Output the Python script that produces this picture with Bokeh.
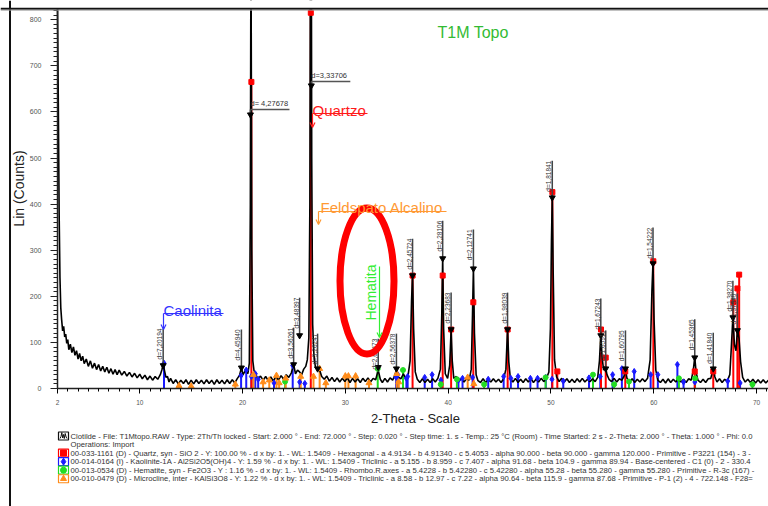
import math
from bokeh.plotting import figure
from bokeh.models import (Range1d, LinearAxis, FixedTicker, SingleIntervalTicker, Span, Label, Arrow,
                          OpenHead, BoxAnnotation)
from bokeh.core.properties import value
from bokeh.embed import file_html
from bokeh.resources import INLINE

FONT = "Liberation Sans"

# ---------------- measured scan (2-theta, counts) ----------------
scan_tt = [
    2.00, 2.08, 2.16, 2.24, 2.32, 2.40, 2.50, 2.60, 2.70, 2.80, 2.90, 3.00, 3.10, 3.25, 3.40, 3.55, 3.70, 3.85,
    4.00, 4.15, 4.30, 4.45, 4.60, 4.80, 5.00, 5.20, 5.40, 5.60, 5.80, 6.00, 6.20, 6.40, 6.60, 6.80, 7.00, 7.20,
    7.40, 7.60, 7.80, 8.00, 8.25, 8.50, 8.75, 9.00, 9.25, 9.50, 9.75, 10.00, 10.25, 10.50, 10.75, 11.00, 11.25,
    11.50, 11.75, 12.00, 12.15, 12.28, 12.40, 12.55, 12.70, 12.85, 13.00, 13.25, 13.50, 13.75, 14.00, 14.25,
    14.50, 14.75, 15.00, 15.25, 15.50, 15.75, 16.00, 16.25, 16.50, 16.75, 17.00, 17.25, 17.50, 17.75, 18.00,
    18.25, 18.50, 18.75, 19.00, 19.25, 19.50, 19.70, 19.89, 20.05, 20.20, 20.38, 20.52, 20.66, 20.76, 20.82,
    20.90, 21.00, 21.12, 21.30, 21.50, 21.75, 22.00, 22.25, 22.50, 22.75, 23.00, 23.25, 23.50, 23.75, 24.00,
    24.25, 24.50, 24.75, 24.97, 25.15, 25.35, 25.55, 25.75, 25.95, 26.15, 26.30, 26.45, 26.55, 26.65, 26.73,
    26.82, 26.95, 27.10, 27.30, 27.50, 27.70, 27.95, 28.20, 28.45, 28.70, 28.95, 29.20, 29.45, 29.70, 29.95,
    30.20, 30.45, 30.70, 30.95, 31.20, 31.45, 31.70, 31.95, 32.20, 32.45, 32.70, 32.95, 33.20, 33.40, 33.60,
    33.85, 34.10, 34.35, 34.60, 34.80, 34.97, 35.15, 35.40, 35.65, 35.90, 36.10, 36.30, 36.44, 36.54, 36.64,
    36.80, 37.00, 37.25, 37.50, 37.75, 38.00, 38.25, 38.50, 38.75, 39.00, 39.25, 39.38, 39.47, 39.56, 39.72,
    39.95, 40.15, 40.29, 40.40, 40.55, 40.80, 41.05, 41.30, 41.55, 41.80, 42.05, 42.25, 42.37, 42.46, 42.56,
    42.72, 42.90, 43.15, 43.40, 43.65, 43.90, 44.15, 44.40, 44.65, 44.90, 45.15, 45.40, 45.62, 45.78, 45.90,
    46.05, 46.30, 46.55, 46.80, 47.05, 47.30, 47.55, 47.80, 48.05, 48.30, 48.55, 48.80, 49.05, 49.30, 49.55,
    49.80, 49.95, 50.05, 50.13, 50.22, 50.35, 50.55, 50.80, 51.05, 51.30, 51.55, 51.80, 52.05, 52.30, 52.55,
    52.80, 53.05, 53.30, 53.55, 53.80, 54.05, 54.30, 54.55, 54.72, 54.85, 54.97, 55.12, 55.30, 55.45, 55.65,
    55.90, 56.15, 56.40, 56.65, 56.90, 57.10, 57.25, 57.40, 57.65, 57.90, 58.15, 58.40, 58.65, 58.90, 59.15,
    59.40, 59.65, 59.82, 59.93, 60.03, 60.20, 60.40, 60.65, 60.90, 61.15, 61.40, 61.65, 61.90, 62.15, 62.40,
    62.65, 62.90, 63.15, 63.40, 63.65, 63.85, 63.99, 64.12, 64.30, 64.55, 64.80, 65.05, 65.30, 65.55, 65.79,
    65.95, 66.15, 66.40, 66.65, 66.90, 67.15, 67.40, 67.55, 67.70, 67.85, 68.00, 68.14, 68.30, 68.45, 68.65,
    68.90, 69.15, 69.40, 69.65, 69.90, 70.15, 70.40, 70.65, 70.90, 71.15,
]
scan_counts = [
    830, 620, 380, 240, 175, 150, 125, 135, 112, 118, 98, 106, 84, 96, 78, 90, 72, 82,
    64, 76, 60, 70, 54, 64, 48, 60, 44, 55, 41, 52, 38, 48, 36, 46, 33, 43,
    31, 41, 30, 40, 29, 37, 27, 35, 25, 33, 23, 31, 21, 29, 19, 27, 18,
    26, 20, 30, 40, 52, 40, 24, 26, 14, 22, 11, 19, 10, 18, 11,
    19, 9, 18, 10, 19, 11, 18, 10, 19, 11, 18, 9, 19, 11, 18,
    10, 19, 11, 19, 12, 22, 28, 45, 30, 36, 40, 32, 55, 400, 1000,
    300, 60, 38, 30, 20, 27, 18, 26, 17, 25, 16, 27, 18, 28, 20,
    30, 24, 34, 52, 32, 40, 36, 30, 42, 48, 62, 110, 400, 1500, 500,
    140, 70, 45, 44, 40, 26, 20, 27, 16, 24, 15, 23, 14, 22, 15,
    23, 13, 22, 14, 21, 13, 22, 15, 23, 14, 22, 19, 40, 20, 13,
    22, 14, 23, 18, 28, 40, 25, 21, 32, 20, 28, 60, 190, 250, 130,
    36, 20, 13, 21, 13, 20, 13, 21, 14, 22, 42, 160, 285, 130, 32,
    22, 50, 128, 60, 22, 26, 15, 22, 14, 22, 18, 42, 160, 262, 120,
    30, 17, 13, 21, 13, 20, 14, 21, 14, 20, 13, 21, 42, 130, 58,
    22, 14, 22, 13, 20, 13, 21, 14, 22, 13, 20, 14, 22, 15, 21,
    36, 130, 320, 420, 250, 62, 25, 15, 22, 14, 21, 13, 20, 13, 21,
    14, 22, 14, 20, 15, 21, 15, 24, 60, 118, 70, 40, 48, 30, 20,
    15, 22, 14, 21, 18, 26, 40, 22, 14, 21, 13, 20, 14, 21, 15,
    22, 62, 210, 275, 150, 40, 18, 13, 20, 12, 21, 13, 20, 14, 22,
    14, 20, 13, 21, 18, 40, 68, 35, 18, 13, 20, 13, 21, 22, 44,
    25, 14, 21, 13, 20, 16, 30, 90, 155, 95, 82, 128, 108, 58, 24,
    14, 20, 13, 20, 12, 19, 12, 19, 12, 18,
]

# ---------------- reference patterns (stick positions / heights) ----------------
quartz_tt = [20.86, 26.64, 36.54, 39.47, 40.29, 42.45, 45.79, 50.14, 50.62, 54.87, 55.33, 57.23, 59.96,
             63.99, 65.79, 67.74, 68.14, 68.31]
quartz_h = [665, 815, 245, 245, 128, 187, 128, 426, 37, 128, 67, 37, 276, 37, 37, 187, 217, 247]

kaol_tt = [12.36, 19.86, 20.36, 20.86, 21.24, 21.52, 23.06, 24.88, 25.56, 26.06, 34.94, 35.10, 35.94, 36.06,
           37.72, 38.44, 39.30, 41.00, 41.40, 42.38, 43.90, 45.40, 46.10, 46.80, 48.00, 48.70, 49.50, 50.10,
           51.20, 53.70, 54.80, 56.00, 56.90, 58.10, 59.70, 60.40, 62.30, 62.90, 64.00, 67.20, 68.40]
kaol_h = [55, 28, 40, 26, 32, 20, 12, 50, 14, 11, 24, 30, 22, 26, 24, 30, 18, 18, 22, 24, 20, 26, 22, 26,
          22, 22, 24, 20, 16, 23, 26, 30, 43, 37, 30, 30, 52, 14, 14, 16, 12]

hem_tt = [24.14, 33.15, 35.61, 39.28, 40.85, 43.50, 49.48, 54.09, 56.15, 57.59, 62.45, 64.02, 69.60]
hem_h = [15, 43, 40, 9, 20, 9, 24, 30, 9, 15, 22, 22, 9]

micro_tt = [13.82, 15.00, 19.30, 21.05, 22.00, 22.60, 23.30, 23.56, 24.20, 25.66, 26.90, 27.50, 28.10, 30.00,
            30.30, 31.00, 32.30, 35.00, 35.20, 41.90, 42.50]
micro_h = [6, 5, 9, 30, 14, 18, 28, 12, 22, 26, 26, 43, 12, 27, 27, 27, 12, 32, 14, 24, 10]

# ---------------- peak search labels (vertical) ----------------
dlab_tt = [12.28, 19.89, 24.97, 25.55, 27.30, 33.20, 34.97, 36.54, 39.47, 40.29, 42.46, 45.78, 50.13,
           54.85, 55.33, 57.25, 59.93, 63.99, 65.79, 67.70, 68.14]
dlab_peak = [50, 45, 52, 115, 43, 46, 43, 245, 282, 128, 260, 128, 414, 115, 43, 43, 271, 67, 43, 154, 126]
dlab_top = [130, 128, 132, 197, 119, 108, 119, 325, 364, 208, 345, 208, 494, 195, 126, 126, 349, 150, 121, 234, 206]
dlab_text = ["d=7,20194", "d=4,45940", "d=3,56261", "d=3,48397", "d=3,26247", "d=2,69473", "d=2,56378",
             "d=2,45724", "d=2,28106", "d=2,23683", "d=2,12741", "d=1,98039", "d=1,81841", "d=1,67243",
             "d=1,65911", "d=1,60795", "d=1,54222", "d=1,45365", "d=1,41840", "d=1,38270", "d=1,37540"]

# horizontal labels on the two strongest quartz peaks
hlab_tt = [20.77, 26.69]
hlab_peak = [594, 657]
hlab_line = [605, 666]
hlab_text = ["d= 4,27678", "d=3,33706"]

# axis ticks
x_tick_labels = [2, 10, 20, 30, 40, 50, 60, 70]

legend_lines = [
    "Clotilde - File: T1Mtopo.RAW - Type: 2Th/Th locked - Start: 2.000 ° - End: 72.000 ° - Step: 0.020 ° - Step time: 1. s - Temp.: 25 °C (Room) - Time Started: 2 s - 2-Theta: 2.000 ° - Theta: 1.000 ° - Phi: 0.0",
    "Operations: Import",
    "00-033-1161 (D) - Quartz, syn - SiO 2 - Y: 100.00 % - d x by: 1. - WL: 1.5409 - Hexagonal - a 4.9134 - b 4.91340 - c 5.4053 - alpha 90.000 - beta 90.000 - gamma 120.000 - Primitive - P3221 (154) - 3 -",
    "00-014-0164 (I) - Kaolinite-1A - Al2Si2O5(OH)4 - Y: 1.59 % - d x by: 1. - WL: 1.5409 - Triclinic - a 5.155 - b 8.959 - c 7.407 - alpha 91.68 - beta 104.9 - gamma 89.94 - Base-centered - C1 (0) - 2 - 330.4",
    "00-013-0534 (D) - Hematite, syn - Fe2O3 - Y : 1.16 % - d x by: 1. - WL: 1.5409 - Rhombo.R.axes - a 5.4228 - b 5.42280 - c 5.42280 - alpha 55.28 - beta 55.280 - gamma 55.280 - Primitive - R-3c (167) -",
    "00-010-0479 (D) - Microcline, inter - KAlSi3O8 - Y: 1.22 % - d x by: 1. - WL: 1.5409 - Triclinic - a 8.58 - b 12.97 - c 7.22 - alpha 90.64 - beta 115.9 - gamma 87.68 - Primitive - P-1 (2) - 4 - 722.148 - F28=",
]

# ---------------- layout ----------------
W, H = 768, 506
PXD = 10.28          # px per degree 2-theta
PXC = 0.461          # px per count
FL, FB = 57, 388     # px of 2theta=2 and of count 0

X0 = 2 - FL / PXD
X1 = 2 + (W - FL) / PXD
Y1 = FB / PXC
Y0 = -(H - FB) / PXC


def sx(px):
    return 2 + (px - FL) / PXD


def sy(py):
    return (FB - py) / PXC


p = figure(width=W, height=H, x_range=Range1d(X0, X1), y_range=Range1d(Y0, Y1),
           output_backend="svg", toolbar_location=None, x_axis_type=None, y_axis_type=None,
           min_border=0, min_border_left=0, min_border_right=0, min_border_top=0, min_border_bottom=0)
p.outline_line_color = None
p.background_fill_color = "white"
p.border_fill_color = "white"

# axes
yax = LinearAxis(fixed_location=2, bounds=(0, sy(8)),
                 ticker=SingleIntervalTicker(interval=100, num_minor_ticks=10))
yax.major_tick_out = 7
yax.major_tick_in = 0
yax.minor_tick_out = 4
yax.minor_tick_in = 0
yax.major_label_standoff = 9
yax.major_label_text_font = FONT
yax.major_label_text_font_size = "7px"
yax.major_label_text_color = "#555555"
yax.axis_line_width = 1.5
yax.axis_line_color = "#222222"
yax.major_tick_line_color = "#222222"
yax.minor_tick_line_color = "#222222"
p.add_layout(yax, "left")

xax = LinearAxis(fixed_location=0, bounds=(2, X1),
                 ticker=FixedTicker(ticks=x_tick_labels, minor_ticks=list(range(2, 72))))
xax.major_tick_out = 5
xax.major_tick_in = 0
xax.minor_tick_out = 3
xax.minor_tick_in = 0
xax.major_label_standoff = 6
xax.major_label_text_font = FONT
xax.major_label_text_font_size = "6.5px"
xax.major_label_text_color = "#555555"
xax.axis_line_width = 1.5
xax.axis_line_color = "#222222"
p.add_layout(xax, "below")

# reference sticks
p.segment(x0=kaol_tt, y0=[0] * len(kaol_tt), x1=kaol_tt, y1=kaol_h, line_color="#1a1aff", line_width=2)
p.segment(x0=hem_tt, y0=[0] * len(hem_tt), x1=hem_tt, y1=hem_h, line_color="#22dd22", line_width=2)
p.segment(x0=micro_tt, y0=[0] * len(micro_tt), x1=micro_tt, y1=micro_h, line_color="#ff8c1a", line_width=2)
p.segment(x0=quartz_tt, y0=[0] * len(quartz_tt), x1=quartz_tt, y1=quartz_h, line_color="#ff0000", line_width=2)

# scan
p.line(scan_tt, scan_counts, line_color="black", line_width=1.6)

# stick markers
p.scatter(kaol_tt, kaol_h, marker="diamond", size=6, color="#1a1aff")
p.scatter(hem_tt, hem_h, marker="circle", size=5, color="#22dd22")
p.scatter(micro_tt, micro_h, marker="triangle", size=6, color="#ff8c1a")
p.scatter(quartz_tt, quartz_h, marker="square", size=5, color="#ff0000")

# vertical d labels
p.segment(x0=dlab_tt, y0=dlab_peak, x1=dlab_tt, y1=dlab_top, line_color="#444444", line_width=1.5)
p.scatter(dlab_tt, dlab_peak, marker="inverted_triangle", size=6, color="black")
p.text(x=dlab_tt, y=dlab_top, text=dlab_text, angle=math.pi / 2, text_align="right",
       text_baseline="bottom", text_font=value(FONT), text_font_size="6.5px", text_color="#333333")

# horizontal d labels
hl_end = [t + 39 / PXD for t in hlab_tt]
p.segment(x0=hlab_tt, y0=hlab_peak, x1=hlab_tt, y1=hlab_line, line_color="#444444", line_width=1.5)
p.segment(x0=hlab_tt, y0=hlab_line, x1=hl_end, y1=hlab_line, line_color="#555555", line_width=1.5)
p.scatter(hlab_tt, hlab_peak, marker="inverted_triangle", size=6, color="black")
p.text(x=hlab_tt, y=[v + 1.5 / PXC for v in hlab_line], text=hlab_text, text_align="left",
       text_baseline="bottom", text_font=value(FONT), text_font_size="7.5px", text_color="#333333")


def callout(text, color, tx, ty, ux0, ux1, uy, ay_end, size="15px"):
    p.add_layout(Label(x=sx(tx), y=sy(ty), text=text, text_color=color, text_font=FONT,
                       text_font_size=size, text_baseline="alphabetic", text_align="left"))
    p.segment(x0=[sx(ux0)], y0=[sy(uy)], x1=[sx(ux1)], y1=[sy(uy)], line_color=color, line_width=1.2)
    p.add_layout(Arrow(end=OpenHead(size=5, line_color=color, line_width=1.2),
                       x_start=sx(ux0), y_start=sy(uy), x_end=sx(ux0), y_end=sy(ay_end),
                       line_color=color, line_width=1.2))


callout("Quartzo", "#ff1a1a", 312, 110, 312, 367, 113, 127)
callout("Feldspato Alcalino", "#ff9933", 320, 207, 318, 446, 211, 224)
callout("Caolinita", "#3333ff", 163, 310, 163, 223, 313, 329)

# Hematita (vertical) with arrow
p.add_layout(Label(x=sx(370), y=sy(320), text="Hematita", text_color="#33ee33", text_font=FONT,
                   text_font_size="14px", angle=math.pi / 2, text_align="left", text_baseline="alphabetic"))
p.add_layout(Arrow(end=OpenHead(size=5, line_color="#33ee33", line_width=1.2),
                   x_start=sx(379), y_start=sy(266), x_end=sx(379), y_end=sy(337),
                   line_color="#33ee33", line_width=1.2))

# red ellipse
p.ellipse(x=[sx(366.5)], y=[sy(280.5)], width=54 / PXD, height=146 / PXC,
          fill_color=None, line_color="#ff0000", line_width=7)

# sample title
p.add_layout(Label(x=sx(437), y=sy(32), text="T1M Topo", text_color="#33bb33", text_font=FONT,
                   text_font_size="16px", text_baseline="middle", text_align="left"))

# axis titles
p.add_layout(Label(x=sx(18), y=sy(188), text="Lin (Counts)", text_color="#222222", text_font=FONT,
                   text_font_size="14px", angle=math.pi / 2, text_align="center", text_baseline="middle"))
p.add_layout(Label(x=sx(415), y=sy(418), text="2-Theta - Scale", text_color="#222222", text_font=FONT,
                   text_font_size="13px", text_align="center", text_baseline="middle"))

# legend block
rows = [435.5 + 8.55 * i for i in range(6)]
icon_rows = [rows[0], rows[2], rows[3], rows[4], rows[5]]
icon_colors = ["#111111", "#ff0000", "#1a1aff", "#22dd22", "#ff8c1a"]
p.rect(x=[sx(63)] * 5, y=[sy(r) for r in icon_rows], width=10 / PXD, height=8 / PXC,
       fill_color="white", line_color=icon_colors, line_width=1.2)
p.scatter([sx(63)] * 4, [sy(r) for r in icon_rows[1:]], marker=["square", "diamond", "circle", "triangle"],
          size=[6, 7, 6, 6], color=icon_colors[1:])
zig_x = [59.5, 60.5, 61.3, 62.2, 63.0, 63.8, 64.7, 65.6, 66.5]
zig_y = [438, 436, 432, 437.5, 434, 438, 433, 436.5, 438]
p.line([sx(v) for v in zig_x], [sy(v) for v in zig_y], line_color="#111111", line_width=1)
p.text(x=[sx(70)] * 6, y=[sy(r) for r in rows], text=legend_lines, text_align="left", text_baseline="middle",
       text_font=value(FONT), text_font_size="7.7px", text_color="#333333")

# mask above the frame, then the frame lines
p.add_layout(BoxAnnotation(bottom=sy(8), top=Y1 + 50, fill_color="white", fill_alpha=1.0, line_color=None))
p.add_layout(Span(location=sx(9.5), dimension="height", line_color="#111111", line_width=2))
p.add_layout(Span(location=sy(8.2), dimension="width", line_color="#111111", line_width=2))
p.add_layout(Span(location=sy(9.6), dimension="width", line_color="#999999", line_width=1))

open("out.html", "w").write(file_html(p, INLINE))
